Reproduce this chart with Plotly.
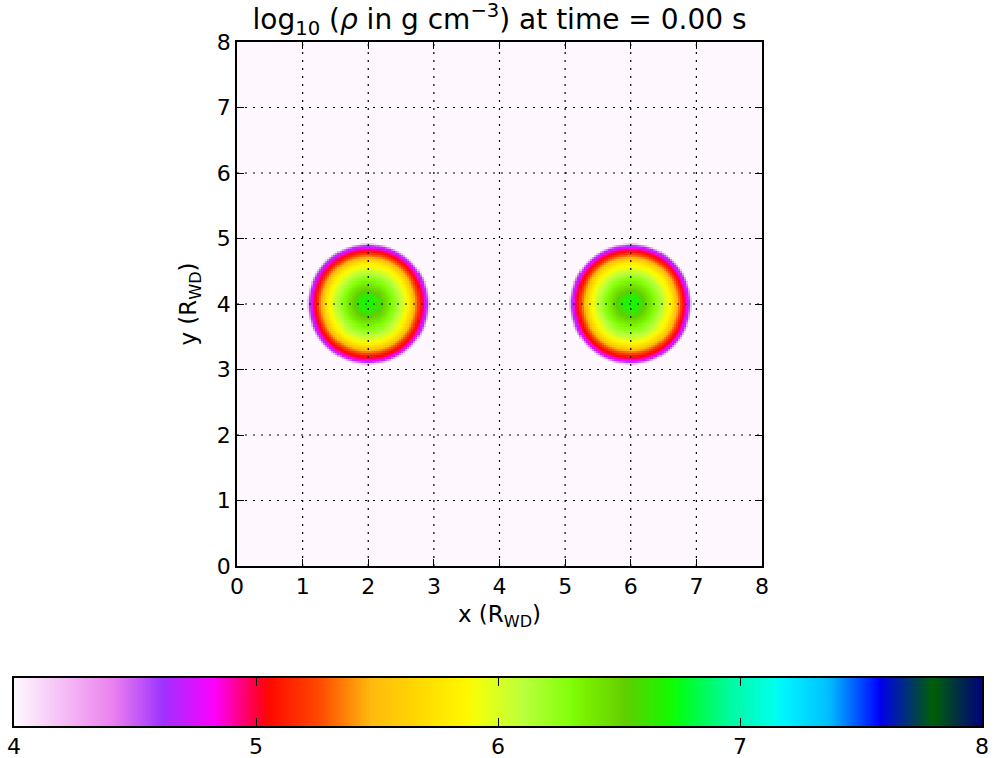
import numpy as np
import plotly.graph_objects as go

# ---- data ----
star_x = [2.0, 6.0]          # star centres (R_WD)
star_y = [4.0, 4.0]
profile_r = [0.0, 0.10, 0.20, 0.35, 0.45, 0.55, 0.62, 0.70, 0.76, 0.81, 0.85, 0.88, 0.91, 0.935]
profile_logrho = [6.72, 6.68, 6.54, 6.32, 6.15, 5.95, 5.80, 5.50, 5.25, 5.05, 4.90, 4.70, 4.40, 4.00]
background_logrho = 4.0
x_ticks = [0, 1, 2, 3, 4, 5, 6, 7, 8]
y_ticks = [0, 1, 2, 3, 4, 5, 6, 7, 8]
cbar_ticks = [4, 5, 6, 7, 8]

# ---- grid ----
n = 256
xc = (np.arange(n) + 0.5) * 8.0 / n
yc = (np.arange(n) + 0.5) * 8.0 / n
X, Y = np.meshgrid(xc, yc)
Z = np.full(X.shape, background_logrho)
for sx, sy in zip(star_x, star_y):
    R = np.hypot(X - sx, Y - sy)
    vals = np.interp(R, profile_r, profile_logrho, right=background_logrho)
    Z = np.maximum(Z, vals)

# ---- gist_ncar_r colour scale ----
gn = {
    'red': [(0.0, 0.0), (0.3098, 0.0), (0.3725, 0.3993), (0.4235, 0.5003), (0.5333, 1.0),
            (0.7922, 1.0), (0.8471, 0.6218), (0.8980, 0.9235), (1.0, 0.9961)],
    'green': [(0.0, 0.0), (0.0510, 0.3722), (0.1059, 0.0), (0.1569, 0.7202), (0.1608, 0.7537),
              (0.1647, 0.7752), (0.2157, 1.0), (0.2588, 0.9804), (0.2706, 0.9804), (0.3176, 1.0),
              (0.3686, 0.8081), (0.4275, 1.0), (0.5216, 1.0), (0.6314, 0.7292), (0.6863, 0.2796),
              (0.7451, 0.0), (0.7922, 0.0), (0.8431, 0.1753), (0.8980, 0.5), (1.0, 0.9725)],
    'blue': [(0.0, 0.5020), (0.0510, 0.0222), (0.1098, 1.0), (0.2039, 1.0), (0.2627, 0.6145),
             (0.3216, 0.0), (0.4157, 0.0), (0.4745, 0.2342), (0.5333, 0.0), (0.5804, 0.0),
             (0.6314, 0.0549), (0.6902, 0.0), (0.7373, 0.0), (0.7922, 0.9738), (0.8, 1.0),
             (0.8431, 1.0), (0.8980, 0.9341), (1.0, 0.9961)],
}
pts = sorted(set(p for ch in gn.values() for p, _ in ch))
colorscale = []
for p in pts:
    rgb = []
    for ch in ('red', 'green', 'blue'):
        xs = [a for a, _ in gn[ch]]
        ys = [b for _, b in gn[ch]]
        rgb.append(int(round(255 * np.interp(p, xs, ys))))
    colorscale.append((round(1 - p, 6), 'rgb(%d,%d,%d)' % tuple(rgb)))
colorscale.sort(key=lambda t: t[0])
colorscale[0] = (0.0, colorscale[0][1])
colorscale[-1] = (1.0, colorscale[-1][1])

# ---- layout geometry (pixels) ----
W, H = 995, 758
L, Rr, T, B = 237, 762, 42, 566
cb_left, cb_right, cb_top, cb_bot = 14, 982, 678, 726
FONT = 'DejaVu Sans'

def dom_x(a, b):
    return [a / W, b / W]

def dom_y(top, bot):
    return [(H - bot) / H, (H - top) / H]

fig = go.Figure()
fig.add_trace(go.Heatmap(
    x=xc, y=yc, z=Z, zmin=4, zmax=8, zsmooth=False,
    colorscale=colorscale, hoverinfo='skip', showscale=False,
    xaxis='x', yaxis='y',
))

# colour bar drawn as its own strip, so that ticks can sit on both edges
cb_vals = np.linspace(cbar_ticks[0], cbar_ticks[-1], 485)
fig.add_trace(go.Heatmap(
    x=cb_vals, y=[0], z=[cb_vals], zmin=4, zmax=8, zsmooth='best',
    colorscale=colorscale, hoverinfo='skip', showscale=False,
    xaxis='x2', yaxis='y2',
))

shapes = []
for v in x_ticks[1:-1]:
    shapes.append(dict(type='line', xref='x', yref='y domain', x0=v, x1=v, y0=0, y1=1,
                       line=dict(color='black', width=1.2, dash='2px,6px'), layer='above'))
for v in y_ticks[1:-1]:
    shapes.append(dict(type='line', xref='x domain', yref='y', x0=0, x1=1, y0=v, y1=v,
                       line=dict(color='black', width=1.2, dash='2px,6px'), layer='above'))

axis_common = dict(
    showgrid=False, ticks='inside', ticklen=7, tickwidth=1, tickcolor='black', mirror='ticks',
    showline=True, linecolor='black', linewidth=1.5, zeroline=False,
    tickfont=dict(family=FONT, size=22, color='black'),
    layer='above traces', fixedrange=True, automargin=False,
)

fig.update_layout(
    width=W, height=H,
    margin=dict(l=0, r=0, t=0, b=0, pad=0, autoexpand=False),
    paper_bgcolor='white', plot_bgcolor='white',
    font=dict(family=FONT, size=22, color='black'),
    title=dict(text='log<sub>10</sub> (<i>ρ</i> in g cm<sup>−3</sup>) at time = 0.00 s',
               x=(L + Rr) / 2 / W, xanchor='center', y=1 - 19 / H, yanchor='middle',
               automargin=False,
               font=dict(family=FONT, size=28, color='black')),
    xaxis=dict(axis_common, range=[0, 8], tickvals=x_ticks, domain=dom_x(L, Rr), anchor='y',
               title=dict(text='x (R<sub>WD</sub>)', standoff=8,
                          font=dict(family=FONT, size=23))),
    yaxis=dict(axis_common, range=[0, 8], tickvals=y_ticks, domain=dom_y(T, B), anchor='x',
               title=dict(text='y (R<sub>WD</sub>)', standoff=14,
                          font=dict(family=FONT, size=23))),
    xaxis2=dict(axis_common, range=[4, 8], tickvals=cbar_ticks, ticklen=8,
                domain=dom_x(cb_left, cb_right), anchor='y2'),
    yaxis2=dict(axis_common, range=[-0.5, 0.5], ticks='', showticklabels=False,
                mirror=True, domain=dom_y(cb_top, cb_bot), anchor='x2'),
    shapes=shapes,
)

fig.write_html('out.html', config={'displayModeBar': False},
               post_script="document.body.style.margin='0';")
